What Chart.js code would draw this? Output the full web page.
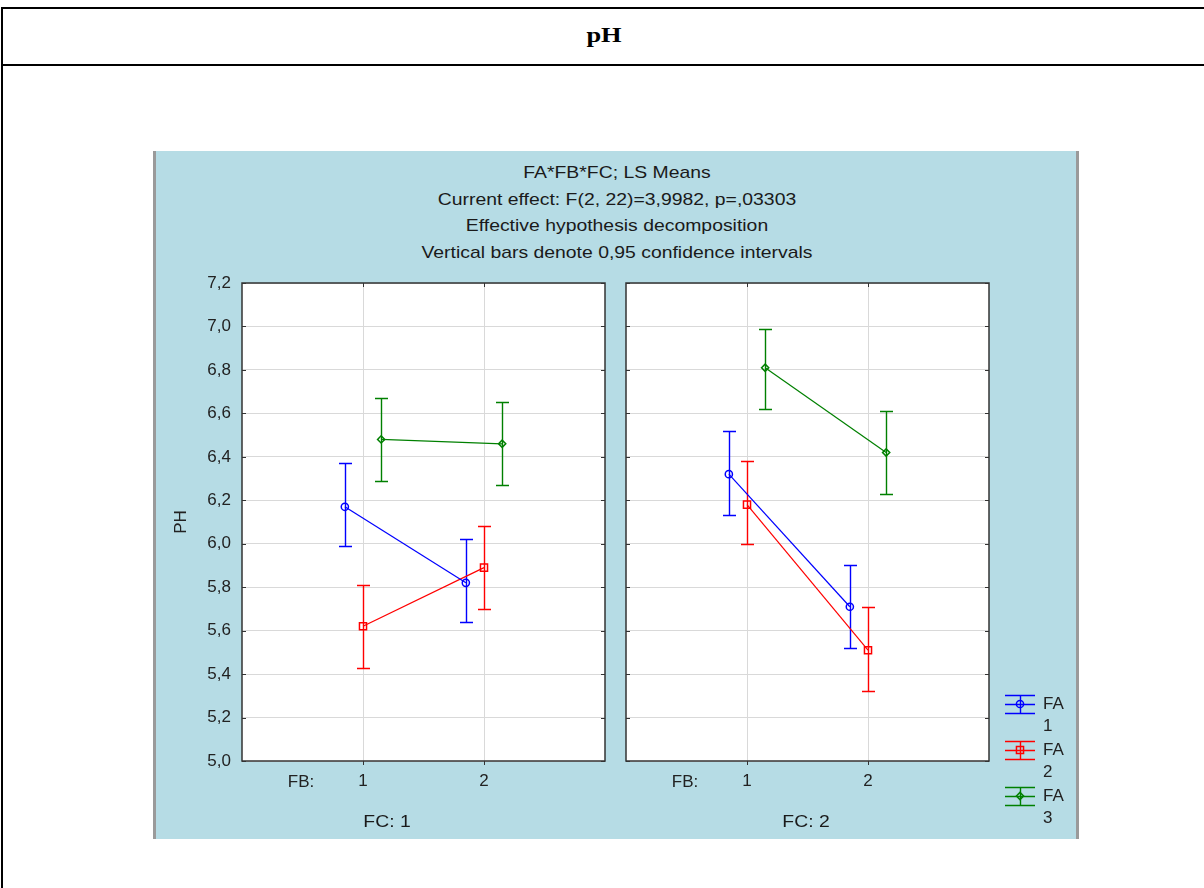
<!DOCTYPE html>
<html>
<head>
<meta charset="utf-8">
<title>pH</title>
<script src="https://cdn.jsdelivr.net/npm/chart.js@4.4.0/dist/chart.umd.min.js"></script>
<style>
  body { margin: 0; width: 1204px; height: 888px; overflow: hidden; position: relative; background: #fff;
         font-family: 'Liberation Sans', Arial, sans-serif; color: #1a1a1a; }
  .frame { position: absolute; left: 1px; top: 7px; width: 1220px; height: 900px;
           border-left: 2px solid #000; border-top: 2px solid #000; }
  .head { position: absolute; left: 1px; top: 9px; width: 1220px; height: 55px; border-bottom: 2px solid #000; }
  .head span { position: absolute; left: 0; width: 1206px; top: 13px; text-align: center;
               font: bold 22px 'Liberation Serif', 'Times New Roman', serif; color: #000; transform: scaleX(1.2); }
  .panel { position: absolute; left: 153px; top: 151px; width: 926px; height: 688px; box-sizing: border-box;
           background: #b6dce5; border-left: 3px solid #9a9a9a; border-right: 3px solid #9a9a9a; }
  .heading { position: absolute; left: 317px; top: 160px; width: 600px; text-align: center;
             font-size: 17px; line-height: 26.5px; transform: scaleX(1.14); }
  .fc { position: absolute; top: 811px; width: 120px; text-align: center; font-size: 17px; line-height: 22px;
        transform: scaleX(1.14); }
  canvas { position: absolute; }
</style>
</head>
<body>
<div class="frame"></div>
<div class="head"><span>pH</span></div>
<div class="panel"></div>
<div class="heading">
  FA*FB*FC; LS Means<br>
  Current effect: F(2, 22)=3,9982, p=,03303<br>
  Effective hypothesis decomposition<br>
  Vertical bars denote 0,95 confidence intervals
</div>
<canvas id="fc1" width="450" height="570" style="left:160px;top:270px;width:450px;height:570px"></canvas>
<canvas id="fc2" width="460" height="570" style="left:615px;top:270px;width:460px;height:570px"></canvas>
<div class="fc" style="left:327px">FC: 1</div>
<div class="fc" style="left:746px">FC: 2</div>

<script>
// data (LS means and 0,95 CI per FA level, per FB level)
const fbLevels = [1, 2];
const faLevels = ['1', '2', '3'];

const meansFc1 = [[6.17, 5.82], [5.62, 5.89], [6.48, 6.46]];
const lowFc1   = [[5.99, 5.64], [5.43, 5.70], [6.29, 6.27]];
const highFc1  = [[6.37, 6.02], [5.81, 6.08], [6.67, 6.65]];

const meansFc2 = [[6.32, 5.71], [6.18, 5.51], [6.81, 6.42]];
const lowFc2   = [[6.13, 5.52], [6.00, 5.32], [6.62, 6.23]];
const highFc2  = [[6.52, 5.90], [6.38, 5.71], [6.99, 6.61]];

// styling
const faColors = ['#0000ff', '#ff0000', '#008000'];
const faMarkers = ['circle', 'rect', 'rectRot'];
const faRadius = [3.6, 5, 3.6];
const dodge = [-0.15, 0, 0.15];
const textColor = '#222';
const font17 = { family: "'Liberation Sans', Arial, sans-serif", size: 17 };

// white plot background, error bars, plot frame and inner tick marks
const errorBars = {
    id: 'errorBars',
    beforeDraw(chart) {
        const { ctx, chartArea: a } = chart;
        ctx.save();
        ctx.fillStyle = '#fff';
        ctx.fillRect(a.left, a.top, a.width, a.height);
        ctx.restore();
    },
    beforeDatasetsDraw(chart) {
        const { ctx, chartArea: a, scales: { x, y } } = chart;
        ctx.save();
        ctx.strokeStyle = '#333';
        ctx.lineWidth = 1.5;
        ctx.strokeRect(a.left, a.top, a.width, a.height);
        ctx.lineWidth = 1;
        ctx.beginPath();
        y.ticks.forEach(t => {
            const py = Math.round(y.getPixelForValue(t.value)) + 0.5;
            ctx.moveTo(a.left, py); ctx.lineTo(a.left + 4, py);
            ctx.moveTo(a.right - 4, py); ctx.lineTo(a.right, py);
        });
        x.ticks.forEach(t => {
            const px = Math.round(x.getPixelForValue(t.value)) + 0.5;
            ctx.moveTo(px, a.top); ctx.lineTo(px, a.top + 4);
            ctx.moveTo(px, a.bottom); ctx.lineTo(px, a.bottom + 4);
        });
        ctx.stroke();

        chart.data.datasets.forEach(ds => {
            ctx.strokeStyle = ds.borderColor;
            ctx.lineWidth = 1.4;
            ctx.beginPath();
            ds.data.forEach((p, j) => {
                const px = Math.round(x.getPixelForValue(p.x)) + 0.5;
                const top = Math.round(y.getPixelForValue(ds.high[j])) + 0.5;
                const bot = Math.round(y.getPixelForValue(ds.low[j])) + 0.5;
                ctx.moveTo(px, top); ctx.lineTo(px, bot);
                ctx.moveTo(px - 6.5, top); ctx.lineTo(px + 6.5, top);
                ctx.moveTo(px - 6.5, bot); ctx.lineTo(px + 6.5, bot);
            });
            ctx.stroke();
        });
        ctx.restore();
    },
    afterDraw(chart) {
        const { ctx, chartArea: a, scales: { x } } = chart;
        ctx.save();
        ctx.font = "17px 'Liberation Sans', Arial, sans-serif";
        ctx.fillStyle = textColor;
        ctx.textAlign = 'center';
        ctx.textBaseline = 'middle';
        ctx.fillText('FB:', x.getPixelForValue(1) - 62, a.bottom + 21);

        if (chart.options.plugins.faLegend) {
            chart.data.datasets.forEach((ds, i) => {
                const cx = a.right + 31;
                const cy = a.bottom - 57 + i * 46;
                ctx.strokeStyle = ds.borderColor;
                ctx.lineWidth = 1.4;
                ctx.beginPath();
                [-9, 0, 9].forEach(d => { ctx.moveTo(cx - 15, cy + d + 0.5); ctx.lineTo(cx + 15, cy + d + 0.5); });
                ctx.moveTo(cx + 0.5, cy - 9); ctx.lineTo(cx + 0.5, cy + 9);
                ctx.stroke();
                ctx.fillStyle = 'rgba(0,0,0,0)';
                ctx.lineWidth = 1.5;
                Chart.helpers.drawPoint(ctx, { pointStyle: ds.pointStyle, radius: ds.pointRadius, borderWidth: 1.5, rotation: 0 }, cx, cy);
                ctx.fillStyle = textColor;
                ctx.textAlign = 'left';
                ctx.fillText('FA', cx + 23, cy);
                ctx.fillText(faLevels[i], cx + 23, cy + 22);
            });
        }
        ctx.restore();
    }
};

const makeChart = (id, means, lows, highs, isLeft) => {
    const ctx = document.getElementById(id).getContext('2d');
    return new Chart(ctx, {
        type: 'line',
        data: {
            datasets: faLevels.map((fa, i) => ({
                label: 'FA ' + fa,
                data: fbLevels.map((fb, j) => ({ x: fb + dodge[i], y: means[i][j] })),
                low: lows[i],
                high: highs[i],
                borderColor: faColors[i],
                backgroundColor: 'rgba(0,0,0,0)',
                borderWidth: 1.2,
                pointStyle: faMarkers[i],
                pointRadius: faRadius[i],
                pointBorderWidth: 1.5,
                pointBackgroundColor: 'rgba(0,0,0,0)',
                tension: 0
            }))
        },
        options: {
            responsive: false,
            animation: false,
            layout: { autoPadding: false, padding: { top: 13, right: isLeft ? 5 : 86, left: 0, bottom: 0 } },
            plugins: {
                legend: { display: false },
                tooltip: { enabled: false },
                faLegend: !isLeft
            },
            scales: {
                x: {
                    type: 'linear',
                    min: 0,
                    max: 3,
                    afterBuildTicks: axis => { axis.ticks = fbLevels.map(v => ({ value: v })); },
                    afterFit: axis => { axis.height = 79; axis.paddingLeft = 0; axis.paddingRight = 0; },
                    grid: { color: '#d9d9d9', drawTicks: false },
                    border: { display: false },
                    ticks: { color: textColor, font: font17, padding: 10, callback: v => String(v) }
                },
                y: {
                    min: 5,
                    max: 7.2,
                    afterFit: axis => { axis.width = isLeft ? 82 : 11; axis.paddingTop = 0; axis.paddingBottom = 0; },
                    grid: { color: '#d9d9d9', drawTicks: false },
                    border: { display: false },
                    ticks: {
                        display: isLeft,
                        stepSize: 0.2,
                        color: textColor,
                        font: font17,
                        padding: 11,
                        callback: v => v.toFixed(1).replace('.', ',')
                    },
                    title: {
                        display: isLeft,
                        text: 'PH',
                        color: textColor,
                        font: font17,
                        padding: { top: 11, bottom: 0 }
                    }
                }
            }
        },
        plugins: [errorBars]
    });
};

document.addEventListener('DOMContentLoaded', () => {
    makeChart('fc1', meansFc1, lowFc1, highFc1, true);
    makeChart('fc2', meansFc2, lowFc2, highFc2, false);
});
</script>
</body>
</html>
